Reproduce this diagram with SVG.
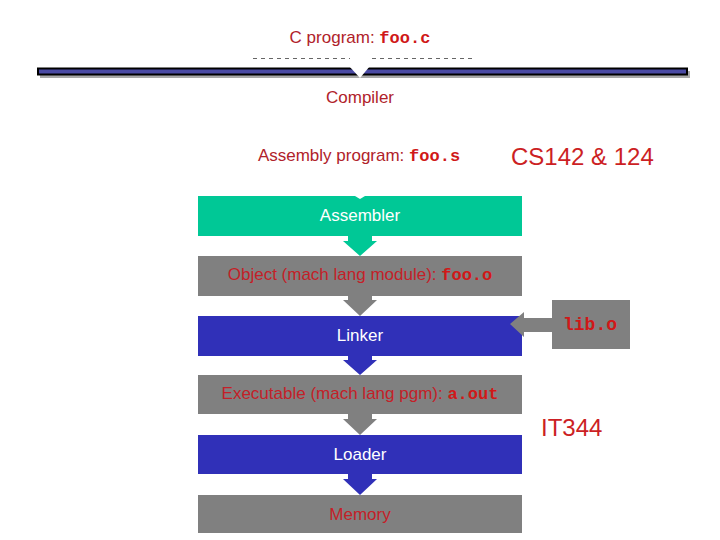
<svg xmlns="http://www.w3.org/2000/svg" width="720" height="540" viewBox="0 0 720 540">
  <style>
    .t{font-family:"Liberation Sans",Arial,sans-serif;font-size:17px;text-anchor:middle}
    .red{fill:#c42028}
    .dred{fill:#b0222a}
    .wht{fill:#ffffff}
    .mono{font-family:"Liberation Mono","Courier New",monospace;font-weight:bold;fill:#d01818}
    .big{font-family:"Liberation Sans",Arial,sans-serif;font-size:24px;fill:#cc1f24}
    .gray{fill:#808080}
    .blue{fill:#3030b8}
    .green{fill:#00c896}
  </style>
  <rect width="720" height="540" fill="#ffffff"/>

  <g id="cprogram">
    <text class="t dred" x="360" y="43">C program: <tspan class="mono">foo.c</tspan></text>
  </g>

  <g id="compiler">
    <line x1="253" y1="58.5" x2="350" y2="58.5" stroke="#666" stroke-width="1" stroke-dasharray="4 4"/>
    <line x1="372" y1="58.5" x2="472" y2="58.5" stroke="#666" stroke-width="1" stroke-dasharray="4 4"/>
    <rect x="40" y="71" width="650" height="7" fill="#a8a8a8"/>
    <rect x="38" y="68.5" width="649" height="6" fill="#4a4aa4" stroke="#000" stroke-width="2"/>
    <polygon points="349,66 370,66 360,78" fill="#ffffff"/>
    <text class="t dred" x="360" y="103">Compiler</text>
  </g>

  <g id="assembly">
    <text class="t dred" x="359" y="161">Assembly program: <tspan class="mono">foo.s</tspan></text>
  </g>

  <g id="cs142">
    <text class="big" x="511" y="165">CS142 &amp; 124</text>
  </g>

  <g id="assembler">
    <rect class="green" x="198" y="196" width="324" height="40"/>
    <polygon points="355,196 365,196 360,199" fill="#ffffff"/>
    <text class="t wht" x="360" y="221">Assembler</text>
  </g>

  <g id="object">
    <rect class="gray" x="198" y="256" width="324" height="40"/>
    <text class="t red" x="360" y="280">Object (mach lang module): <tspan class="mono">foo.o</tspan></text>
  </g>

  <g id="linker">
    <rect class="blue" x="198" y="316" width="324" height="40"/>
    <text class="t wht" x="360" y="341">Linker</text>
  </g>

  <g id="libo">
    <rect class="gray" x="552" y="300" width="78" height="49"/>
    <text class="mono" x="590" y="330" font-size="18" text-anchor="middle">lib.o</text>
  </g>

  <g id="executable">
    <rect class="gray" x="198" y="375" width="324" height="39"/>
    <text class="t red" x="360" y="399">Executable (mach lang pgm): <tspan class="mono">a.out</tspan></text>
  </g>

  <g id="it344">
    <text class="big" x="541" y="436">IT344</text>
  </g>

  <g id="loader">
    <rect class="blue" x="198" y="435" width="324" height="39"/>
    <text class="t wht" x="360" y="460">Loader</text>
  </g>

  <g id="memory">
    <rect class="gray" x="198" y="495" width="324" height="38"/>
    <text class="t red" x="360" y="520">Memory</text>
  </g>

  <g id="connectors">
    <polygon class="green" points="348,236 372,236 372,241 377,241 360,256 343,241 348,241"/>
    <polygon class="gray" points="348,296 372,296 372,300 377,300 360,316 343,300 348,300"/>
    <polygon class="blue" points="348,356 372,356 372,360 377,360 360,375 343,360 348,360"/>
    <polygon class="gray" points="348,414 372,414 372,419 377,419 360,435 343,419 348,419"/>
    <polygon class="blue" points="348,474 372,474 372,479 377,479 360,495 343,479 348,479"/>
    <polygon class="gray" points="552,318 524,318 524,312 510,324 524,337 524,332 552,332"/>
  </g>
</svg>
